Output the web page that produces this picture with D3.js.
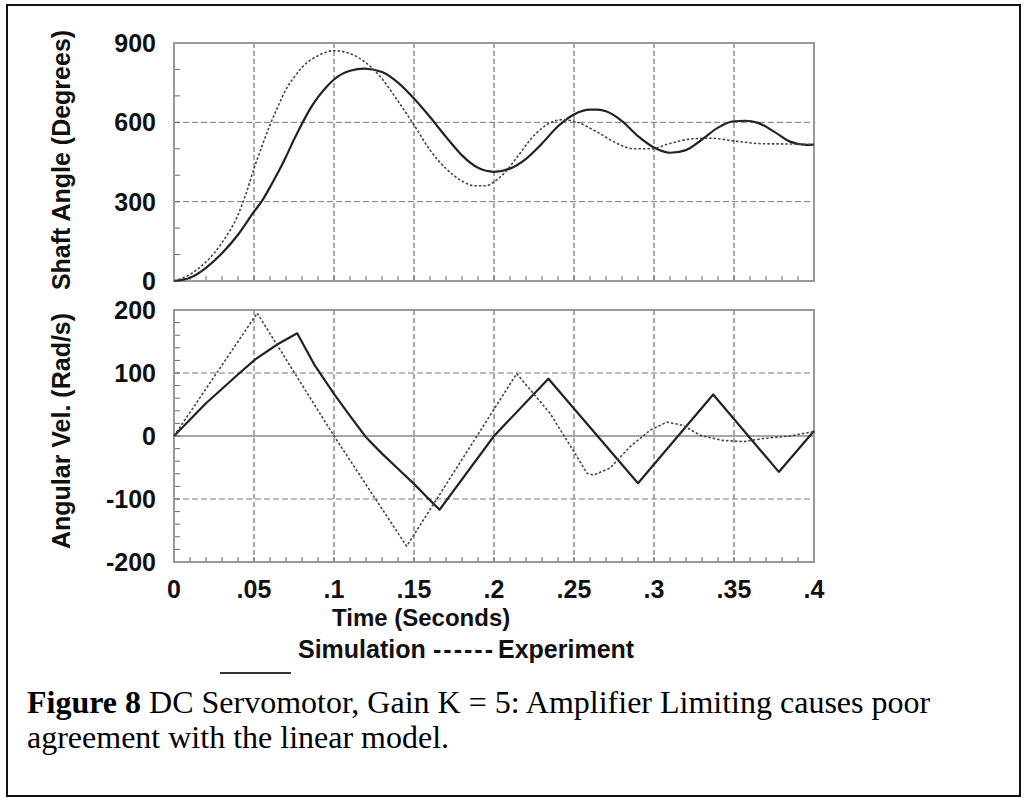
<!DOCTYPE html>
<html>
<head>
<meta charset="utf-8">
<script src="https://cdn.jsdelivr.net/npm/d3@7"></script>
<style>
  body { margin: 0; background: #fff; }
  svg { display: block; }
  .lbl { font-family: 'Liberation Sans', Arial, Helvetica, sans-serif; font-weight: bold; font-size: 25px; fill: #111; }
  .cap { font-family: 'Liberation Serif', 'Times New Roman', serif; font-size: 32px; fill: #000; }
</style>
</head>
<body>
<svg></svg>
<script>
/*
*  DATA
*/
let timeTicks = [0, .05, .1, .15, .2, .25, .3, .35, .4]
let timeLabels = ['0', '.05', '.1', '.15', '.2', '.25', '.3', '.35', '.4']
let angleTicks = [0, 300, 600, 900]
let velTicks = [-200, -100, 0, 100, 200]

// shaft angle (degrees)
let simAngleT = [0, .01, .02, .03, .04, .05, .055, .06, .065, .07, .075, .08, .085, .09, .095, .1, .11, .119, .13, .14, .15, .16, .17, .18, .19, .2, .21, .22, .23, .24, .25, .26, .265, .27, .28, .29, .3, .31, .32, .33, .34, .35, .357, .365, .375, .385, .395, .4]
let simAngle = [0, 12, 50, 105, 175, 262, 303, 355, 410, 470, 535, 595, 650, 695, 732, 762, 795, 803, 790, 750, 690, 620, 545, 475, 428, 413, 425, 462, 520, 585, 630, 648, 648, 642, 605, 548, 505, 485, 495, 535, 580, 604, 606, 598, 565, 527, 515, 516]
let expAngleT = [0, .01, .02, .03, .04, .045, .05, .055, .06, .065, .07, .075, .08, .09, .1, .11, .12, .13, .14, .15, .16, .17, .18, .188, .195, .2, .206, .214, .225, .235, .243, .252, .264, .277, .287, .298, .31, .323, .335, .352, .368, .385, .4]
let expAngle = [0, 25, 72, 145, 250, 330, 425, 510, 590, 660, 725, 770, 808, 852, 871, 860, 825, 765, 680, 590, 495, 425, 378, 360, 360, 375, 405, 465, 550, 598, 610, 600, 565, 520, 500, 500, 520, 537, 540, 528, 519, 518, 516]

// angular velocity (rad/s)
let simVelT = [0, .02, .041, .051, .065, .077, .088, .1, .11, .12, .13, .14, .15, .158, .166, .2, .234, .29, .337, .378, .4]
let simVel = [0, 52, 100, 122, 146, 163, 112, 67, 32, -2, -28, -52, -76, -97, -117, 0, 91, -75, 66, -57, 8]
let expVelT = [0, .052, .1, .1454, .2142, .235, .252, .258, .262, .2725, .285, .2975, .308, .318, .329, .343, .356, .368, .385, .4]
let expVel = [0, 195, 0, -175, 99, 36, -33, -59, -62, -51, -17, 9, 22, 17, 1, -7, -9, -4, 0, 7]

/*
*  RUN
*/
let width = 1030,
    height = 798

let svg = d3.select('svg')
  .attr('width', width)
  .attr('height', height)

let x = d3.scaleLinear().domain([0, .4]).range([174, 814])
let yAngle = d3.scaleLinear().domain([0, 900]).range([281, 43])
let yVel = d3.scaleLinear().domain([-200, 200]).range([562, 310])

// outer frame
svg.append('rect')
  .attr('x', 7).attr('y', 5)
  .attr('width', 1013).attr('height', 791)
  .attr('fill', '#fff')
  .attr('stroke', '#111')
  .attr('stroke-width', 2)

drawPanel(yAngle, angleTicks, d3.range(0, 901, 100), [300, 600], null)
drawPanel(yVel, velTicks, d3.range(-200, 201, 20), [100, -100], 0)

drawSeries(yAngle, simAngleT, simAngle, d3.curveMonotoneX, false)
drawSeries(yAngle, expAngleT, expAngle, d3.curveMonotoneX, true)
drawSeries(yVel, simVelT, simVel, d3.curveLinear, false)
drawSeries(yVel, expVelT, expVel, d3.curveLinear, true)

// x tick labels
svg.append('g').selectAll('text')
  .data(timeTicks)
  .join('text')
  .attr('class', 'lbl')
  .attr('x', d => x(d))
  .attr('y', 598)
  .attr('text-anchor', 'middle')
  .text((d, i) => timeLabels[i])

svg.append('text').attr('class', 'lbl')
  .attr('x', 332).attr('y', 626)
  .style('font-size', '24px')
  .text('Time (Seconds)')

// axis titles
svg.append('text').attr('class', 'lbl')
  .attr('transform', 'translate(70,160) rotate(-90)')
  .attr('text-anchor', 'middle')
  .text('Shaft Angle (Degrees)')
svg.append('text').attr('class', 'lbl')
  .attr('transform', 'translate(70,431) rotate(-90)')
  .attr('text-anchor', 'middle')
  .text('Angular Vel. (Rad/s)')

// legend
svg.append('line')
  .attr('x1', 220).attr('x2', 291)
  .attr('y1', 673).attr('y2', 673)
  .attr('stroke', '#333').attr('stroke-width', 2)
svg.append('text').attr('class', 'lbl').attr('x', 298).attr('y', 658).text('Simulation')
svg.append('text').attr('class', 'lbl').attr('x', 433).attr('y', 658)
  .attr('textLength', 60).attr('lengthAdjust', 'spacing').text('------')
svg.append('text').attr('class', 'lbl').attr('x', 498).attr('y', 658).text('Experiment')

// caption
let cap = svg.append('text').attr('class', 'cap').attr('x', 27).attr('y', 713)
cap.append('tspan').attr('font-weight', 'bold').text('Figure 8')
cap.append('tspan').text(' DC Servomotor, Gain K = 5: Amplifier Limiting causes poor')
svg.append('text').attr('class', 'cap').attr('x', 27).attr('y', 748)
  .text('agreement with the linear model.')

/*
*  HELPERS
*/
function drawPanel(y, ticks, minor, dashed, zero){
  let g = svg.append('g')
  let [y0, y1] = y.range()

  // vertical grid
  g.selectAll('.vgrid')
    .data(timeTicks.slice(1, -1))
    .join('line')
    .attr('x1', d => x(d)).attr('x2', d => x(d))
    .attr('y1', y1).attr('y2', y0)
    .attr('stroke', '#555')
    .attr('stroke-width', 1)
    .attr('stroke-dasharray', '5,3')

  // horizontal grid
  g.selectAll('.hgrid')
    .data(dashed)
    .join('line')
    .attr('x1', x(0)).attr('x2', x(.4))
    .attr('y1', d => y(d)).attr('y2', d => y(d))
    .attr('stroke', '#777')
    .attr('stroke-width', 1)
    .attr('stroke-dasharray', '6,3')

  if(zero !== null){
    g.append('line')
      .attr('x1', x(0)).attr('x2', x(.4))
      .attr('y1', y(zero)).attr('y2', y(zero))
      .attr('stroke', '#888')
      .attr('stroke-width', 1.5)
  }

  // minor ticks
  g.selectAll('.ytick')
    .data(minor)
    .join('line')
    .attr('x1', x(0)).attr('x2', x(0) + 6)
    .attr('y1', d => y(d)).attr('y2', d => y(d))
    .attr('stroke', '#666')
  g.selectAll('.xtick')
    .data(d3.range(1, 40))
    .join('line')
    .attr('x1', d => x(d / 100)).attr('x2', d => x(d / 100))
    .attr('y1', y0).attr('y2', y0 - 5)
    .attr('stroke', '#666')

  // frame
  g.append('rect')
    .attr('x', x(0)).attr('y', y1)
    .attr('width', x(.4) - x(0)).attr('height', y0 - y1)
    .attr('fill', 'none')
    .attr('stroke', '#999')
    .attr('stroke-width', 2)

  // y tick labels
  g.selectAll('.ylab')
    .data(ticks)
    .join('text')
    .attr('class', 'lbl')
    .attr('x', 156)
    .attr('y', d => y(d) + 9)
    .attr('text-anchor', 'end')
    .text(d => d)
}

function drawSeries(y, ts, vs, curve, dotted){
  let pts = ts.map((t, i) => [t, vs[i]])
  let line = d3.line()
    .x(d => x(d[0]))
    .y(d => y(d[1]))
    .curve(curve)
  svg.append('path')
    .attr('d', line(pts))
    .attr('fill', 'none')
    .attr('stroke', dotted ? '#444' : '#222')
    .attr('stroke-width', dotted ? 1.6 : 2.2)
    .attr('stroke-dasharray', dotted ? '2.5,2' : null)
    .attr('stroke-linejoin', 'round')
}
</script>
</body>
</html>
